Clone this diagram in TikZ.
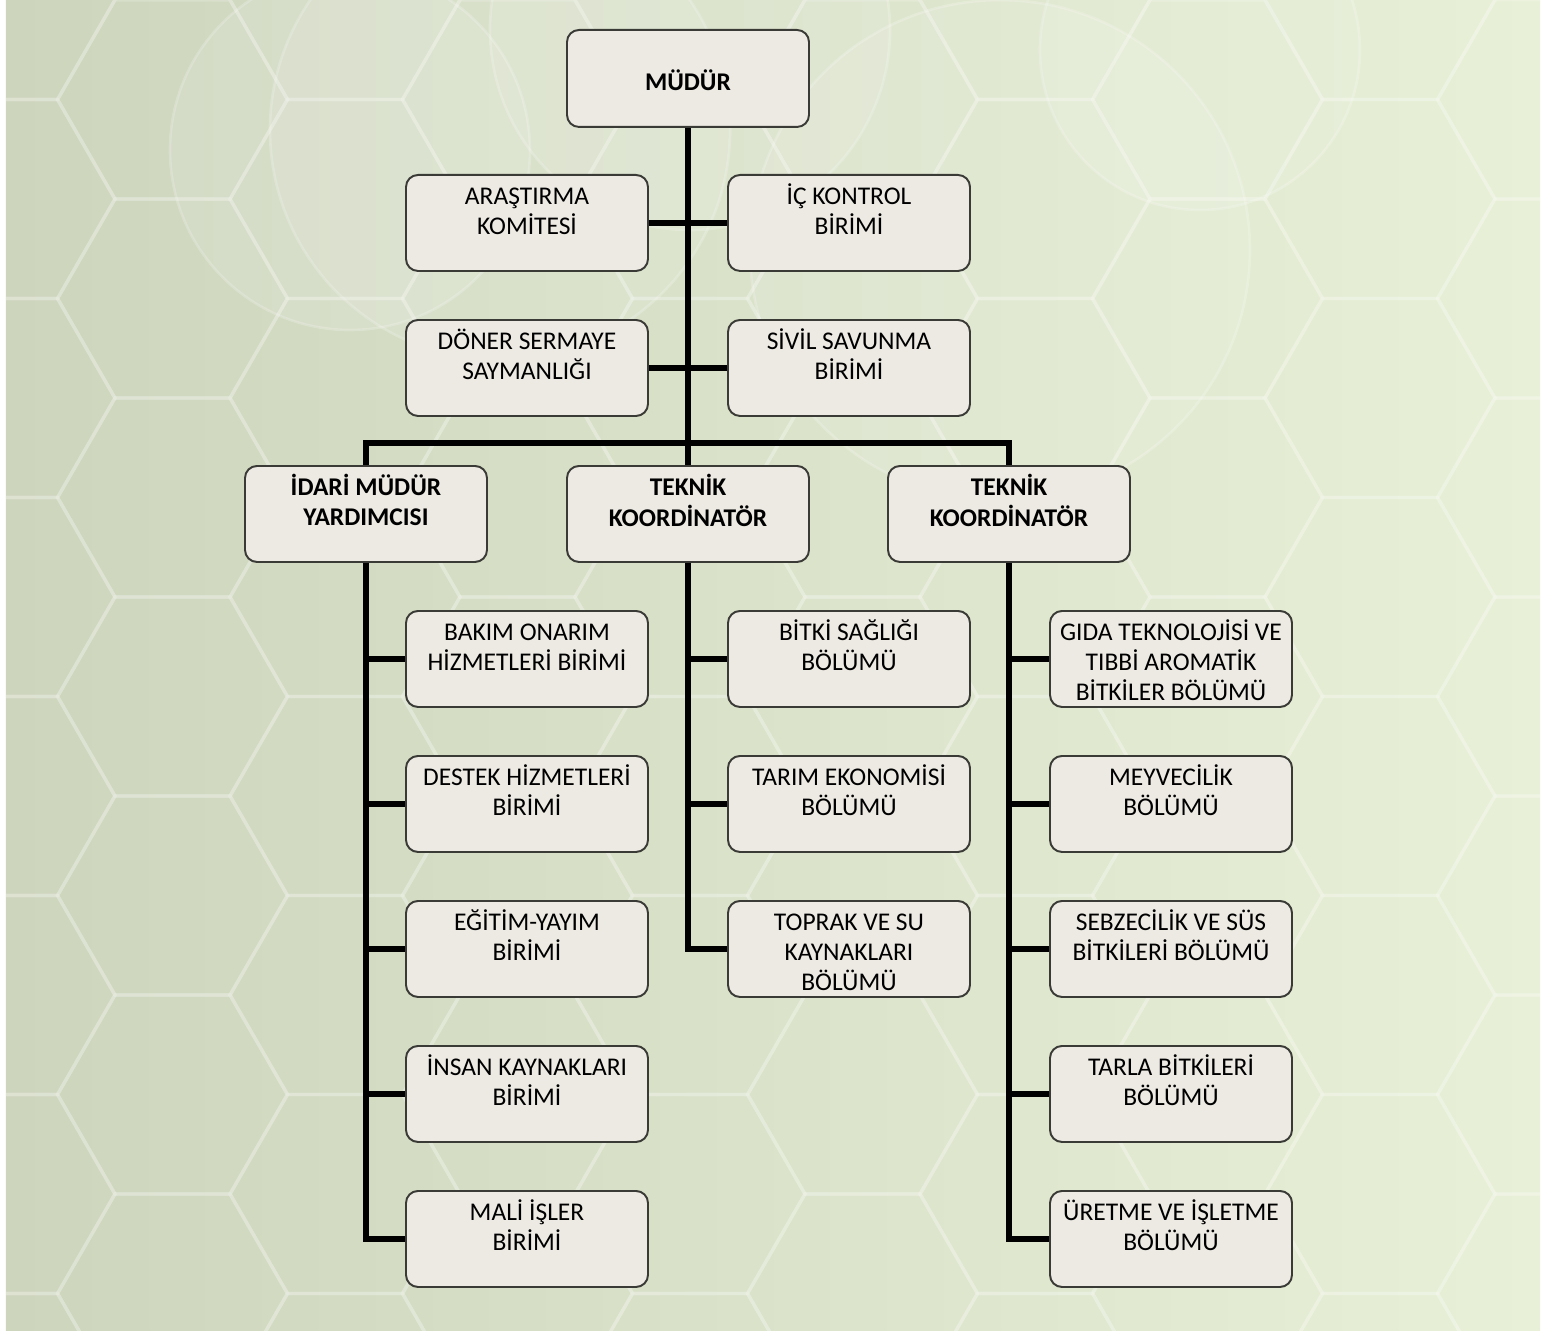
\documentclass[tikz,border=0pt]{standalone}
\usepackage{fontspec}
\setmainfont{Carlito}
\usepackage{xcolor}
\usepackage{tikz}
\usetikzlibrary{calc}

\definecolor{boxfill}{HTML}{EDEAE3}
\definecolor{boxline}{HTML}{3A3A36}
\definecolor{bgleft}{HTML}{CDD5BD}
\definecolor{bgright}{HTML}{E8F0D7}

\newcommand{\boxlines}[1]{\begin{tabular}[t]{@{}c@{}}#1\end{tabular}}

\tikzset{
  unit/.style={draw=boxline, fill=boxfill, line width=1.1pt, rounded corners=0.24cm,
    minimum width=4.84cm, inner sep=0pt, anchor=north,
    text height=0.6cm, text depth=1.32cm, font=\fontsize{14.5}{17}\selectfont},
  head/.style={unit, font=\fontsize{14.5}{17}\selectfont\bfseries},
  link/.style={line width=3.4pt, black, line join=miter},
}

\begin{document}
\begin{tikzpicture}
      
      \useasboundingbox (0,0) rectangle (31.06,-26.62);
      
      % background
      \fill[left color=bgleft, right color=bgright] (0.12,0) rectangle (30.8,-26.62);
      \begin{scope}
        \clip (0.12,0) rectangle (30.8,-26.62);
        \foreach \cx/\cy/\r in {10/-2.6/4.6, 13.8/-0.6/4, 20/-5/5, 7/-3/3.6, 24/-1/3.2}{
          \fill[white, opacity=0.10] (\cx,\cy) circle (\r);
          \draw[white, opacity=0.2, line width=1.5pt] (\cx,\cy) circle (\r);
        }
        \foreach \i in {0, ..., 12}{
          \foreach \j in {0, ..., 8}{
            \pgfmathsetmacro\hy{-3.98*\j - 1.99*mod(\i,2)}
            \draw[white, opacity=0.18, line width=2pt]
              (3.45*\i, \hy)
              +(0:2.3) -- +(60:2.3) -- +(120:2.3) -- +(180:2.3) -- +(240:2.3) -- +(300:2.3) -- cycle;
          }
        }
      \end{scope}
      
      % top
      \node[head, text height=1.22cm, text depth=0.72cm] (mudur) at (13.76,-0.58) {MÜDÜR};
      \node[unit] (arastirma) at (10.54,-3.48) {\boxlines{ARAŞTIRMA\\KOMİTESİ}};
      \node[unit] (ickontrol) at (16.98,-3.48) {\boxlines{İÇ KONTROL\\BİRİMİ}};
      \node[unit] (doner) at (10.54,-6.38) {\boxlines{DÖNER SERMAYE\\SAYMANLIĞI}};
      \node[unit] (sivil) at (16.98,-6.38) {\boxlines{SİVİL SAVUNMA\\BİRİMİ}};
      \coordinate (bus) at (13.76,-8.86);
      
      \node[head] (idari) at (7.32,-9.30) {\boxlines{İDARİ MÜDÜR\\YARDIMCISI}};
      \node[head] (teknika) at (13.76,-9.30) {\boxlines{TEKNİK\\KOORDİNATÖR}};
      \node[head] (teknikb) at (20.18,-9.30) {\boxlines{TEKNİK\\KOORDİNATÖR}};
      
      % idari
      \foreach \name/\txt [count=\i from 0] in {bakim/{BAKIM ONARIM\\HİZMETLERİ BİRİMİ},
          destek/{DESTEK HİZMETLERİ\\BİRİMİ}, egitim/{EĞİTİM-YAYIM\\BİRİMİ},
          insan/{İNSAN KAYNAKLARI\\BİRİMİ}, mali/{MALİ İŞLER\\BİRİMİ}}{
        \node[unit] (\name) at (10.54, -12.2 - 2.9*\i) {\boxlines{\txt}};
      }
      
      % teknik a
      \foreach \name/\txt [count=\i from 0] in {bitki/{BİTKİ SAĞLIĞI\\BÖLÜMÜ},
          tarim/{TARIM EKONOMİSİ\\BÖLÜMÜ}, toprak/{TOPRAK VE SU\\KAYNAKLARI\\BÖLÜMÜ}}{
        \node[unit] (\name) at (16.98, -12.2 - 2.9*\i) {\boxlines{\txt}};
      }
      
      % teknik b
      \foreach \name/\txt [count=\i from 0] in {gida/{GIDA TEKNOLOJİSİ VE\\TIBBİ AROMATİK\\BİTKİLER BÖLÜMÜ},
          meyve/{MEYVECİLİK\\BÖLÜMÜ}, sebze/{SEBZECİLİK VE SÜS\\BİTKİLERİ BÖLÜMÜ},
          tarla/{TARLA BİTKİLERİ\\BÖLÜMÜ}, uretme/{ÜRETME VE İŞLETME\\BÖLÜMÜ}}{
        \node[unit] (\name) at (23.42, -12.2 - 2.9*\i) {\boxlines{\txt}};
      }
      
      % links
      \draw[link] (mudur.south) -- (bus);
      \draw[link] (arastirma.east) -- (ickontrol.west);
      \draw[link] (doner.east) -- (sivil.west);
      \draw[link] (idari.north) -- (idari.north |- bus) -| (teknikb.north);
      \draw[link] (bus) -- (teknika.north);
      
      \draw[link] (idari.south) |- (mali.west);
      \foreach \name in {bakim, destek, egitim, insan}{
        \draw[link] (idari.south |- \name.west) -- (\name.west);
      }
      \draw[link] (teknika.south) |- (toprak.west);
      \foreach \name in {bitki, tarim}{
        \draw[link] (teknika.south |- \name.west) -- (\name.west);
      }
      \draw[link] (teknikb.south) |- (uretme.west);
      \foreach \name in {gida, meyve, sebze, tarla}{
        \draw[link] (teknikb.south |- \name.west) -- (\name.west);
      }
      
    \end{tikzpicture}
\end{document}
